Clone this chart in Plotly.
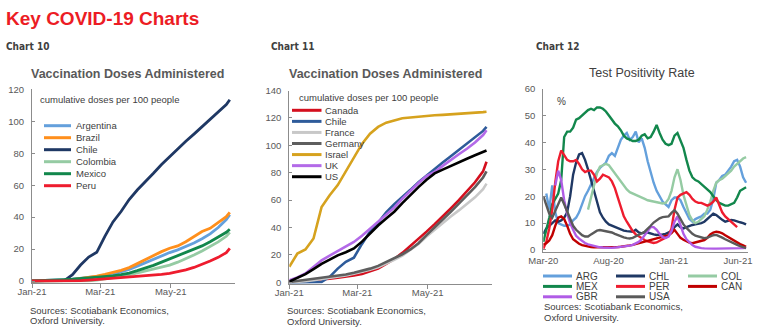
import pandas as pd
import plotly.graph_objects as go

W, H = 762, 332
FONT = "Liberation Sans, Arial, sans-serif"
NARROW = "Liberation Sans Narrow, Arial Narrow, DejaVu Sans Condensed, Liberation Sans, sans-serif"
TXT = "#404040"
TICK = "#595959"
AXIS = "#8C8C8C"

# ---------------- data: weekly vaccination doses per 100 people, 2021 ----------------
vax_dates = list(pd.date_range("2021-01-01", "2021-06-18", freq="7D")) + [pd.Timestamp("2021-06-21")]

argentina = [0, 0.1, 0.3, 0.5, 0.8, 1.2, 1.7, 2.2, 2.7, 3.3, 4.3, 5.6, 7.3, 9.3, 11.5,
             13.5, 15.8, 17.8, 19.5, 21.5, 23.8, 26.5, 29.5, 33.5, 38.5, 41.5]
brazil = [0, 0, 0, 0.1, 0.3, 0.8, 1.5, 2.3, 3.1, 4.2, 5.4, 6.7, 8.4, 11, 13.2,
          15.9, 18.4, 20.5, 22, 24.6, 27.8, 31, 33, 36.7, 40.3, 43]
chile = [0, 0, 0, 0, 0.3, 4, 10, 15, 18, 28, 37, 43.5, 51, 57, 62,
         67.5, 73, 78, 82.7, 87.5, 92, 96.5, 101, 105.5, 110.5, 113.5]
colombia = [0, 0, 0, 0, 0, 0, 0, 0.1, 0.5, 1.2, 2, 2.9, 3.8, 5, 6.2,
            7.3, 8.6, 10, 11.8, 13.8, 16.3, 18.8, 21.5, 24.5, 28, 30.5]
mexico = [0, 0.1, 0.3, 0.5, 0.8, 1.1, 1.5, 1.9, 2.3, 2.7, 3.2, 4, 5, 6.5, 8,
          9.8, 11.8, 13.8, 15.5, 17.5, 19.8, 22, 24.6, 27.5, 30.5, 32.4]
peru = [0, 0, 0, 0, 0, 0, 0.2, 0.6, 1, 1.4, 1.7, 2, 2.3, 2.7, 3.1,
        3.6, 4.2, 4.8, 5.8, 7, 8.5, 10.3, 12.5, 14.8, 17.8, 20.5]

canada = [0.2, 0.6, 1, 1.5, 2, 2.6, 3.3, 4, 5, 6, 7.8, 10, 13.5, 17, 21.5,
          26.5, 31.5, 37, 42.5, 48, 54, 60, 66.5, 73, 81, 88]
france = [0, 0.2, 0.8, 1.6, 2.4, 3.2, 4, 5, 6.3, 7.6, 9.2, 11, 13.5, 16.5, 19.5,
          23.5, 28, 33.5, 38.5, 43.5, 48, 52.5, 57, 62, 68, 72]
germany = [0.3, 1, 1.7, 2.4, 3.1, 3.8, 4.7, 5.7, 7, 8.3, 10, 12, 14.7, 17.5, 20.5,
           24, 28.5, 34.5, 40, 46, 51.5, 57.5, 63.5, 69.5, 76.5, 81]
israel = [11.4, 21, 24, 32, 55, 63.5, 71, 81, 92, 101, 108.5, 113.4, 116.5, 118.3, 119.7,
          120.3, 121, 121.5, 121.9, 122.2, 122.5, 123, 123.3, 123.7, 124.2, 124.5]
uk = [1.5, 3.5, 6.5, 11, 16, 19.5, 23, 26.5, 29.5, 34, 39, 44.5, 49.5, 54.5, 61,
      67, 72.5, 77.5, 80.5, 85, 89.5, 93.5, 97.5, 102, 107.5, 111]
us = [0.5, 3, 6, 9.7, 13.5, 16.5, 19.7, 22, 24.7, 29.7, 35.8, 41.5, 46.5, 51.5, 57.8,
      63.8, 69.5, 74.8, 79.5, 82.3, 85.1, 87.6, 90.2, 92.7, 94.8, 96.2]

# ---------------- data: weekly test positivity rate (%), Mar-2020 to Jun-2021 ----------------
tpr_dates = pd.date_range("2020-03-01", periods=69, freq="7D")
N = None
arg = [N, 21, 15, 24, 14, 10, 9.5, 9, 9, 9.5, 11, 12, 14, 17, 20, 22, 24.5, 27, 29, 30.5,
       31.5, 32.5, 35, 36, 35, 38, 41, 42.5, 43.5, 41, 42, 44, 40, 41.5, 38, 33, 28.5, 25, 22, 20,
       18, 17, 16, 18.5, 19.5, 19.5, 18.5, 16, 14, 11.5, 10.5, 11.5, 12, 12.5, 13.5, 13.5, 15, 19, 25, 26,
       27.5, 28, 29.5, 31, 33, 33.5, 31, 27, 25]
chl = [6, 8, 9, 10, 11, 10.5, 11, 12, 14, 20, 28, 32.5, 35.5, 36, 33.5, 30, 26, 22, 17.5, 14,
       12, 10.5, 9.5, 9, 8.5, 8, 7.5, 7.2, 7, 7, 6.8, 7.5, 6.5, 6.2, 6.5, 6.5, 6, 5.8, 5.6, 5.6,
       5.8, 6, 6.5, 7, 8.5, 9.5, 8.5, 8, 8.5, 9, 9.3, 9.5, 9.7, 10, 10.5, 11.5, 12.5, 13.5, 13, 12,
       11.2, 10.5, 10.8, 11.2, 11, 10.5, 10.3, 10, 9.5]
col = [N, N, N, N, N, N, N, N, N, N, N, N, N, N, N, 15, 19, 24, 28.5, 31,
       31.5, 32, 31.5, 30, 28.5, 27, 25.5, 24, 22.5, 21.5, 21, 20.5, 20.3, 19.5, 19, 18.5, 18.3, 18, 17.8, 17.5,
       17.3, 17.5, 19, 22, 27, 30, 26, 20.5, 16.5, 13, 11, 10, 10.5, 11.5, 12.5, 15, 18, 22, 25, 26,
       26.5, 27.5, 28.5, 29.5, 31, 32, 33, 34, 34.5]
mex = [3, 7, 12, 17, 19, 21, 26, 42, 44, 44, 45.5, 48.5, 49, 50, 51, 52, 52.5, 52, 53, 53,
       52.5, 51.5, 50, 48.5, 47, 46, 44.5, 42.5, 41.5, 41, 40.5, 40.5, 41, 42.5, 43, 41.5, 42, 44, 46.5, 43.5,
       41, 39.5, 39, 39.5, 42.5, 43.5, 41, 38, 33.5, 29.5, 27, 26, 25.5, 24.5, 23.5, 22.5, 21.5, 20, 18.5, 17.5,
       17, 16.5, 16.5, 17, 17.5, 19.5, 22, 22.7, 23.3]
per = [0.5, 3, 8, 15, 25, 33, 37, 35, 33.5, 33, 33, 33.5, 32, 30, 29, 29.5, 29.5, 28, 25.5, 26.5,
       28, 27.5, 27, 25.5, 23, 19.5, 15.5, 12.5, 10.5, 8.5, 7, 5.8, 5, 4.3, 3.7, 3.2, 2.8, 2.6, 2.8, 3.3,
       4, 4.6, 5.2, 8, 15, 19.5, 20.5, 21, 21.5, 20.5, 19, 18, 17.5, 17.5, 17, 16.5, 17, 18, 19.5, 16.5,
       14, 12.5, 11.5, 10.5, 9.5, 8.5, N, N, N]
can = [2, 2.5, 3.5, 5.5, 9, 12, 12.5, 11.5, 9, 6, 4, 3, 2.3, 1.8, 1.5, 1.2, 1.1, 1, 1, 0.9,
       0.9, 0.9, 1, 1, 1, 1.1, 1.2, 1.3, 1.5, 1.7, 1.9, 2.2, 2.5, 2.8, 3.1, 3.3, 3.6, 3.9, 4.3, 4.6,
       5, 5.3, 5.5, 6.3, 7.5, 6, 4.5, 3.8, 3.2, 2.7, 2.5, 2.8, 3.1, 3.4, 3.7, 4.5, 5.8, 6.5, 6.8, 6.6,
       6.2, 5.5, 4.8, 4.2, 3.5, 2.8, 2.2, 1.7, 1.2]
gbr = [N, N, N, N, 24, 29.5, 26, 18.5, 13.5, 10, 7.5, 5.3, 4.2, 3.3, 2.6, 2.1, 1.8, 1.5, 1.2, 1,
       0.9, 0.8, 0.8, 0.8, 0.9, 1, 1.1, 1.2, 1.4, 1.6, 1.9, 2.4, 3, 4, 5.5, 7, 8.5, 8.5, 7.5, 6,
       4.8, 4.5, 5, 7, 10.5, 12.5, 9, 6, 4, 2.7, 1.8, 1.2, 0.9, 0.7, 0.6, 0.5, 0.5, 0.5, 0.5, 0.5,
       0.5, 0.5, 0.5, 0.5, 0.5, 0.6, 0.6, 0.7, 0.8]
usa = [20, 17, 13.5, 12, 14.5, 17, 19.5, 17, 14.5, 11.5, 9, 7.5, 6.5, 5.5, 5, 5, 5.8, 6.5, 7.2, 7.4,
       7.2, 7, 6.8, 6.5, 6, 5.5, 5, 4.7, 4.4, 4.3, 4.5, 5, 5.5, 6.2, 6.8, 7.8, 9, 10.2, 11, 11.8,
       12.2, 12.4, 12.5, 13.8, 14.8, 13.5, 11.5, 9.5, 8.2, 7, 6, 5.3, 5, 4.6, 4.4, 4.6, 5, 5.5, 5.6, 5.2,
       4.6, 4, 3.4, 2.9, 2.4, 1.9, 1.4, 1, 0.7]

tpr_ticks = ["2020-03-01", "2020-08-01", "2021-01-01", "2021-06-01"]
tpr_labels = ["Mar-20", "Aug-20", "Jan-21", "Jun-21"]

# ---------------- series definitions ----------------
latam = [("Argentina", argentina, "#64A0DC"), ("Brazil", brazil, "#FF8F1C"),
         ("Chile", chile, "#1F3864"), ("Colombia", colombia, "#95CBA3"),
         ("Mexico", mexico, "#12874C"), ("Peru", peru, "#EE1C2E")]
world = [("Canada", canada, "#D40F1E"), ("Chile", chile, "#2E5B9A"),
         ("France", france, "#C8C8C8"), ("Germany", germany, "#5E5E5E"),
         ("Israel", israel, "#D6A21E"), ("UK", uk, "#B36AE8"), ("US", us, "#000000")]
tpr = [("ARG", arg, "#64A0DC"), ("CHL", chl, "#1F3864"), ("COL", col, "#95CBA3"),
       ("MEX", mex, "#12874C"), ("PER", per, "#EE1C2E"), ("CAN", can, "#C00000"),
       ("GBR", gbr, "#B05CE6"), ("USA", usa, "#5A5A5A")]


def px(x):
    return x / W


def py(y):
    return 1 - y / H


fig = go.Figure()
for name, vals, color in latam:
    fig.add_trace(go.Scatter(x=vax_dates, y=vals, name=name, mode="lines",
                             line=dict(color=color, width=2.8), xaxis="x", yaxis="y"))
for name, vals, color in world:
    fig.add_trace(go.Scatter(x=vax_dates, y=vals, name=name, mode="lines",
                             line=dict(color=color, width=2.6), xaxis="x2", yaxis="y2"))
for name, vals, color in tpr:
    fig.add_trace(go.Scatter(x=tpr_dates, y=vals, name=name, mode="lines",
                             line=dict(color=color, width=2.4), xaxis="x3", yaxis="y3"))

tickfont = dict(family=FONT, size=9.5, color=TICK)
common_x = dict(type="date", showline=True, linecolor=AXIS, linewidth=1, showgrid=False,
                zeroline=False, ticks="outside", ticklen=4, tickcolor=AXIS, tickfont=tickfont,
                ticklabelstandoff=-4, automargin=False)
common_y = dict(showline=True, linecolor=AXIS, linewidth=1, showgrid=False, zeroline=False,
                ticks="inside", ticklen=3, tickcolor=AXIS, tickfont=tickfont, ticklabelstandoff=5,
                automargin=False)
tpr_xdomain = [px(543.3), px(748)]
tpr_xrange = ["2020-03-01", "2021-06-24 12:00"]

fig.update_layout(
    width=W, height=H, margin=dict(l=0, r=0, t=0, b=0, autoexpand=False),
    paper_bgcolor="white", plot_bgcolor="white", showlegend=False,
    font=dict(family=FONT, color=TXT),
    xaxis=dict(common_x, domain=[px(32), px(235)], anchor="y",
               range=["2021-01-01", "2021-06-25 12:00"],
               tickvals=["2021-01-01", "2021-03-01", "2021-05-01"],
               ticktext=["Jan-21", "Mar-21", "May-21"]),
    yaxis=dict(common_y, domain=[py(282.6), py(89.4)], anchor="x",
               range=[-1, 120], tickvals=[0, 20, 40, 60, 80, 100, 120]),
    xaxis2=dict(common_x, domain=[px(289.3), px(492)], anchor="y2",
                range=["2021-01-01", "2021-06-25 18:00"],
                tickvals=["2021-01-01", "2021-03-01", "2021-05-01"],
                ticktext=["Jan-21", "Mar-21", "May-21"]),
    yaxis2=dict(common_y, domain=[py(283.7), py(90.5)], anchor="x2",
                range=[-1, 140], tickvals=[0, 20, 40, 60, 80, 100, 120, 140]),
    # labelled date axis of the positivity chart (labels only)
    xaxis3=dict(common_x, domain=tpr_xdomain, anchor="y3", range=tpr_xrange,
                ticks="", ticklabelstandoff=0, tickvals=tpr_ticks, ticktext=tpr_labels),
    # companion axis carrying the tick marks
    xaxis4=dict(type="date", overlaying="x3", anchor="y3", domain=tpr_xdomain, range=tpr_xrange,
                showline=False, showgrid=False, zeroline=False, showticklabels=False,
                ticks="outside", ticklen=3, tickcolor=AXIS, tickvals=tpr_ticks, automargin=False),
    yaxis3=dict(common_y, domain=[py(251.6), py(88.6)], anchor="x3",
                range=[-0.6, 60], tickvals=[0, 10, 20, 30, 40, 50, 60]),
)

ann = []
shapes = []


def text(x, y, s, size, color=TXT, family=FONT, xanchor="left"):
    ann.append(dict(x=px(x), y=py(y), xref="paper", yref="paper", text=s, showarrow=False,
                    xanchor=xanchor, yanchor="middle", font=dict(family=family, size=size, color=color)))


def legend(entries, x0, x1, xt, y0, dy, size, width):
    for i, (name, _, color) in enumerate(entries):
        y = y0 + i * dy
        shapes.append(dict(type="line", xref="paper", yref="paper", x0=px(x0), x1=px(x1),
                           y0=py(y), y1=py(y), line=dict(color=color, width=width)))
        text(xt, y, name, size)


text(4, 18.5, "<b>Key COVID-19 Charts</b>", 19, color="#EC1C24")
text(4, 47, "<b>Chart 10</b>", 10, family=NARROW)
text(269, 47, "<b>Chart 11</b>", 10, family=NARROW)
text(534, 47, "<b>Chart 12</b>", 10, family=NARROW)

text(127.5, 74.3, "<b>Vaccination Doses Administered</b>", 12.5, color="#595959", xanchor="center")
text(385, 74.3, "<b>Vaccination Doses Administered</b>", 12.5, color="#595959", xanchor="center")
text(641.5, 73.5, "Test Positivity Rate", 12.5, color="#404040", xanchor="center")

text(37.5, 100, "cumulative doses per 100 people", 9.5)
text(296.5, 97.7, "cumulative doses per 100 people", 9.5)
text(555, 101.7, "%", 10)

legend(latam, 44, 71, 74, 125.7, 12, 9.5, 3)
legend(world, 292, 321.5, 323, 110.3, 11.07, 9.5, 3)
for i, entry in enumerate(tpr):
    row, colm = divmod(i, 3)
    x0 = [543, 616, 688][colm]
    legend([entry], x0, x0 + 29, x0 + 31, 276 + row * 10.4, 0, 10, 3)

for x, y in [(27.5, 310), (284.5, 310.7), (541.5, 306.7)]:
    text(x, y, "Sources: Scotiabank Economics,", 9.5)
    text(x, y + 10.6, "Oxford University.", 9.5)

fig.update_layout(annotations=ann, shapes=shapes)
fig.write_html("out.html")
